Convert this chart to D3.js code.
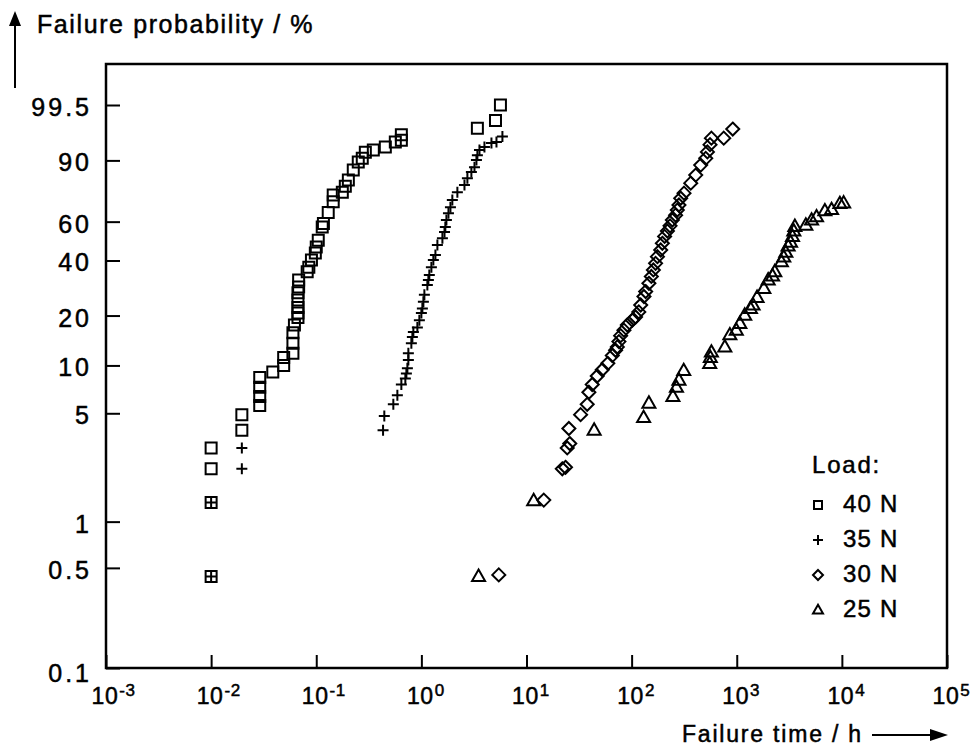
<!DOCTYPE html>
<html>
<head>
<meta charset="utf-8">
<script src="https://cdn.jsdelivr.net/npm/d3@7"></script>
<style>
  body { margin: 0; background: #fff; }
  svg { display: block; font-family: "Liberation Sans", Arial, Helvetica, sans-serif; }
  text { fill: #000; stroke: #000; stroke-width: 0.5px; }
</style>
</head>
<body>
<div id="chart"></div>
<script>
// failure times (h) and failure probability (%) per load
const t40 = [0.01, 0.01, 0.01, 0.01, 0.0196, 0.0196, 0.029, 0.029, 0.029, 0.029, 0.0386, 0.049, 0.049,
    0.060, 0.060, 0.060, 0.062, 0.067, 0.067, 0.067, 0.067, 0.067, 0.068, 0.068, 0.082, 0.085, 0.09,
    0.098, 0.10, 0.1045, 0.114, 0.117, 0.130, 0.145, 0.145, 0.177, 0.189, 0.202, 0.225, 0.251, 0.274,
    0.293, 0.349, 0.454, 0.565, 0.645, 0.645, 3.41, 5.07, 5.65];
const p40 = [0.44, 1.33, 2.2, 3.0, 3.9, 4.9, 5.6, 6.4, 7.3, 8.4, 9.1, 10.0, 11.2,
    11.9, 13.7, 15.8, 17.6, 19.5, 20.7, 22.3, 24.6, 27.0, 29.0, 31.7, 35.0, 37.0, 40.2,
    43.5, 46.5, 50.0, 57.0, 59.0, 65.0, 71.0, 74.5, 76.0, 79.0, 82.0, 86.4, 89.4, 90.7,
    92.6, 93.2, 94.0, 95.2, 95.6, 96.6, 97.6, 98.5, 99.5];

const t35 = [0.01, 0.01, 0.0196, 0.0196, 0.432, 0.444, 0.541, 0.591, 0.645, 0.704, 0.72, 0.736, 0.752,
    0.752, 0.803, 0.821, 0.839, 0.916, 0.957, 1.0, 1.022, 1.045, 1.068, 1.14, 1.166, 1.19, 1.245,
    1.30, 1.36, 1.42, 1.585, 1.66, 1.69, 1.73, 1.81, 1.89, 1.97, 2.20, 2.57, 2.74, 2.99, 3.20,
    3.34, 3.41, 3.57, 3.98, 4.64, 5.18, 5.90];
const p35 = [0.44, 1.33, 2.2, 3.0, 3.9, 4.8, 5.7, 6.5, 7.6, 8.3, 8.9, 9.6, 10.8,
    11.9, 13.7, 14.9, 16.0, 17.0, 18.8, 20.7, 22.0, 24.0, 26.3, 29.8, 31.7, 33.7, 37.0,
    40.2, 42.6, 47.5, 51.0, 54.3, 57.0, 60.9, 64.7, 68.0, 71.9, 76.0, 79.6, 82.8, 85.5, 87.5,
    90.1, 91.7, 93.2, 94.0, 95.0, 95.2, 96.3];

const t30 = [5.45, 14.6, 21.9, 23.5, 24.4, 25.8, 25.3, 32.7, 37.8, 39.2, 42.2, 47.1, 52.6, 59.4,
    65.5, 70.4, 73.1, 75.7, 78.6, 84.5, 91, 101.5, 109, 117, 122, 131, 136, 146, 154, 161, 169,
    176, 189, 196, 206, 219, 232, 244, 262, 272, 282, 293, 315, 365, 407, 454, 507, 526, 557,
    574, 752, 916];
const p30 = [0.45, 1.38, 2.2, 2.25, 3.0, 3.2, 4.0, 4.9, 5.7, 6.8, 7.6, 8.6, 9.4, 10.3,
    11.5, 12.4, 13.0, 14.0, 15.2, 16.4, 17.6, 18.8, 19.6, 21.0, 23.0, 25.7, 27.4, 30.4, 33.1, 35.8, 38.7,
    41.8, 45.0, 48.4, 52.0, 54.9, 57.7, 60.9, 63.6, 66.4, 69.2, 72.8, 75.5, 80.5, 84.2, 88.3, 90.7, 92.7, 94.6,
    96.0, 96.0, 97.5];

const t25 = [3.5, 11.7, 44, 130, 146, 247, 267, 282, 313, 553, 561, 574, 770, 860, 990, 1070,
    1190, 1350, 1430, 1560, 1810, 1990, 2190, 2300, 2660, 2800, 2930, 3080, 3250, 3390, 3490,
    3570, 4540, 5150, 5740, 6890, 7980, 9570, 10400];
const p25 = [0.44, 1.37, 3.9, 4.7, 5.8, 6.4, 7.3, 8.1, 9.3, 10.3, 11.2, 12.1, 13.0, 15.4, 16.4, 18.0,
    20.1, 22.0, 23.0, 25.4, 28.5, 31.7, 33.3, 35.1, 39.4, 41.6, 43.9, 47.0, 49.0, 52.0, 54.9,
    57.4, 58.1, 60.9, 62.7, 66.0, 66.7, 70.0, 70.3];

const loads = ["40 N", "35 N", "30 N", "25 N"];
const shapes = ["square", "plus", "diamond", "triangle"];

const probTicks = [0.1, 0.5, 1, 5, 10, 20, 40, 60, 90, 99.5];
const probLabels = ["0.1", "0.5", "1", "5", "10", "20", "40", "60", "90", "99.5"];
const timeTicks = [1e-3, 1e-2, 1e-1, 1e0, 1e1, 1e2, 1e3, 1e4, 1e5];

const series = [
    {t: t40, p: p40},
    {t: t35, p: p35},
    {t: t30, p: p30},
    {t: t25, p: p25}
];

// weibull probability transform
const wb = p => Math.log(-Math.log(1 - p / 100));

// marker path around 0,0 with half size r
function marker(shape, r) {
    if (shape === "square") return "M" + (-r) + "," + (-r) + "h" + 2 * r + "v" + 2 * r + "h" + (-2 * r) + "Z";
    if (shape === "plus") return "M" + (-r) + ",0h" + 2 * r + "M0," + (-r) + "v" + 2 * r;
    if (shape === "diamond") return "M0," + (-r) + "L" + r + ",0L0," + r + "L" + (-r) + ",0Z";
    let h = r * 1.75;
    return "M0," + (-h * 0.6) + "L" + r + "," + (h * 0.4) + "L" + (-r) + "," + (h * 0.4) + "Z";
}

const margin = {top: 64, right: 27, bottom: 79, left: 106};
const width = 974 - margin.left - margin.right;
const height = 747 - margin.top - margin.bottom;

const root = d3.select("#chart").append("svg")
    .attr("width", 974)
    .attr("height", 747);

const svg = root.append("g")
    .attr("transform", "translate(" + margin.left + "," + margin.top + ")");

let x = d3.scaleLog()
    .domain([1e-3, 1e5])
    .range([0, width]);

// 0.1 % sits a little under the frame, clamp it onto the frame line
let yBase = d3.scaleLinear()
    .domain([wb(0.1), wb(99.5)])
    .range([height + 7, 41]);
let y = d3.scaleLinear()
    .domain([yBase.invert(height), wb(99.5)])
    .range([height, 41])
    .clamp(true);

// x axis, ticks inward
let xAxis = svg.append("g")
    .attr("transform", "translate(0," + height + ")")
    .call(d3.axisBottom(x).tickValues(timeTicks).tickSizeInner(-13).tickSizeOuter(0).tickFormat(""));
xAxis.select(".domain").remove();
xAxis.selectAll(".tick line").attr("stroke", "#000").attr("stroke-width", 2);
xAxis.selectAll(".tick text").each(function (d) {
    let e = Math.round(Math.log10(d));
    let t = d3.select(this)
        .attr("y", 36).attr("dy", null).attr("x", -15)
        .attr("text-anchor", "start")
        .style("font-size", "23px")
        .style("letter-spacing", "0.6px");
    t.append("tspan").text("10");
    t.append("tspan").attr("dy", -8).attr("dx", 1).style("font-size", "17px").text(e < 0 ? "-" + (-e) : e);
});

// y axis, ticks inward
let yAxis = svg.append("g")
    .call(d3.axisLeft(y).tickValues(probTicks.map(wb)).tickSizeInner(-14).tickSizeOuter(0).tickPadding(14)
        .tickFormat((d, i) => probLabels[i]));
yAxis.select(".domain").remove();
yAxis.selectAll(".tick line").attr("stroke", "#000").attr("stroke-width", 2);
yAxis.selectAll(".tick text")
    .attr("dy", (d, i) => i === 0 ? "0.55em" : "0.42em")
    .style("font-size", "25px")
    .style("letter-spacing", "3px");

// frame
svg.append("rect")
    .attr("width", width)
    .attr("height", height)
    .attr("fill", "none")
    .attr("stroke", "#000")
    .attr("stroke-width", 2.5);

// points
series.forEach(function (s, k) {
    svg.append("g")
        .selectAll("path")
        .data(s.t.map((t, i) => ({t: t, p: s.p[i]})))
        .enter().append("path")
        .attr("transform", d => "translate(" + x(d.t) + "," + y(wb(d.p)) + ")")
        .attr("d", marker(shapes[k], shapes[k] === "diamond" ? 6.5 : shapes[k] === "triangle" ? 6.5 : 5.5))
        .attr("fill", "none")
        .attr("stroke", "#000")
        .attr("stroke-width", 2);
});

// legend
let legend = root.append("g").attr("transform", "translate(812,473)");
legend.append("text")
    .text("Load:")
    .style("font-size", "24px")
    .style("letter-spacing", "1.8px");
loads.forEach(function (l, i) {
    let row = legend.append("g").attr("transform", "translate(0," + (39 + i * 35) + ")");
    row.append("path")
        .attr("transform", "translate(6,-7)")
        .attr("d", marker(shapes[i], shapes[i] === "square" ? 4 : 5))
        .attr("fill", "none")
        .attr("stroke", "#000")
        .attr("stroke-width", 2);
    row.append("text")
        .attr("x", 31)
        .text(l)
        .style("font-size", "24px")
        .style("letter-spacing", "1.2px");
});

// axis titles with arrows
root.append("text")
    .attr("x", 37).attr("y", 33)
    .text("Failure probability / %")
    .style("font-size", "25px")
    .style("letter-spacing", "1.6px");
root.append("path")
    .attr("d", "M15,24V88")
    .attr("stroke", "#000").attr("stroke-width", 2);
root.append("path")
    .attr("d", "M15,11L21,26L9,26Z")
    .attr("fill", "#000");

root.append("text")
    .attr("x", 682).attr("y", 742)
    .text("Failure time / h")
    .style("font-size", "23px")
    .style("letter-spacing", "1.8px");
root.append("path")
    .attr("d", "M872,735H934")
    .attr("stroke", "#000").attr("stroke-width", 2);
root.append("path")
    .attr("d", "M948,735L930,729L930,741Z")
    .attr("fill", "#000");
</script>
</body>
</html>
